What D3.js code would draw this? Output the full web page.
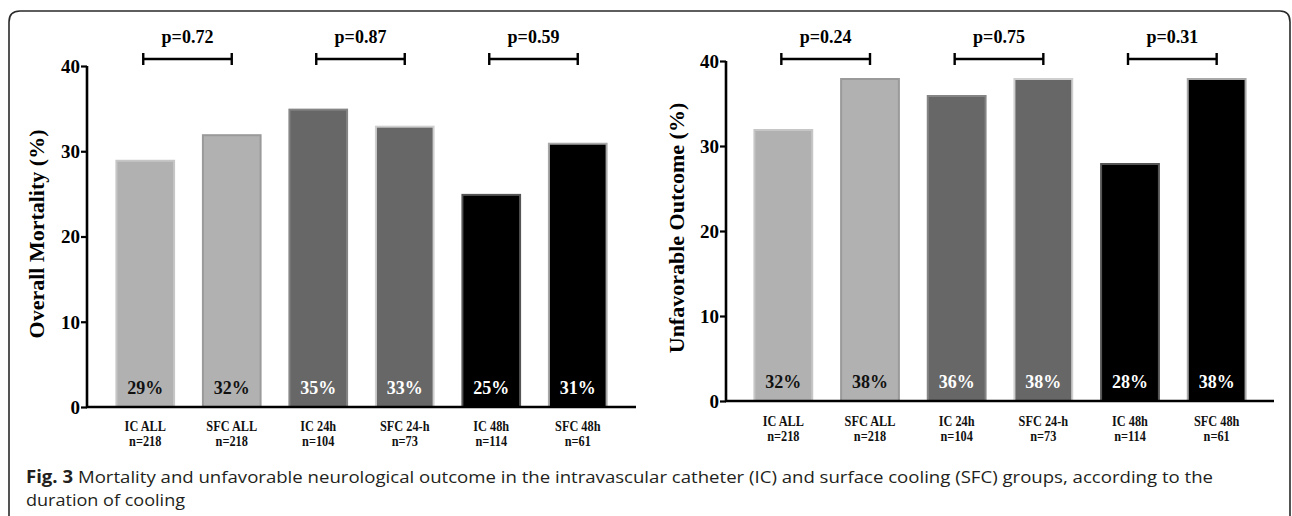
<!DOCTYPE html>
<html><head><meta charset="utf-8">
<script src="https://cdn.jsdelivr.net/npm/d3@7"></script>
<style>body{margin:0;background:#fff}svg{display:block}</style>
</head><body>
<svg id="c" width="1292" height="516"></svg>
<script>
const categories = ["IC ALL","SFC ALL","IC 24h","SFC 24-h","IC 48h","SFC 48h"];
const groupSizes = ["n=218","n=218","n=104","n=73","n=114","n=61"];
const mortality = [29,32,35,33,25,31];
const unfavorable = [32,38,36,38,28,38];
const yTicks = [0,10,20,30,40];
const pMortality = ["p=0.72","p=0.87","p=0.59"];
const pUnfavorable = ["p=0.24","p=0.75","p=0.31"];
const barFill = ["#b1b1b1","#b1b1b1","#676767","#676767","#000000","#000000"];
const barStroke = ["#c6c6c6","#9a9a9a","#858585","#cfcfcf","#555555","#a8a8a8"];
const labelFill = ["#111","#111","#fff","#fff","#fff","#fff"];

const svg = d3.select("#c");
const serif = "'Liberation Serif','Times New Roman',serif";

// frame
svg.append("path")
  .attr("d","M9,530 L9,22 Q9,11 20,11 L1280,11 Q1290,11 1290,22 L1290,530")
  .attr("fill","none").attr("stroke","#2a2a2a").attr("stroke-width",1.6);

function panel(opt){
  const g = svg.append("g");
  const y = d3.scaleLinear().domain([0,40]).range([opt.y0,opt.y40]);
  const x = d3.scaleBand().domain(categories).range(opt.xr).paddingInner(0.31).paddingOuter(0.155);
  // bars
  g.selectAll("rect.bar").data(opt.values).join("rect")
    .attr("x",(d,i)=>x(categories[i])+1)
    .attr("width",x.bandwidth()-2)
    .attr("y",d=>y(d)+1)
    .attr("height",d=>y(0)-y(d)-1)
    .attr("fill",(d,i)=>barFill[i])
    .attr("stroke",(d,i)=>barStroke[i])
    .attr("stroke-width",2);
  // percent labels
  g.selectAll("text.pct").data(opt.values).join("text")
    .attr("x",(d,i)=>x(categories[i])+x.bandwidth()/2)
    .attr("y",y(0)-13)
    .attr("text-anchor","middle")
    .attr("font-family",serif).attr("font-weight","bold").attr("font-size",18)
    .attr("fill",(d,i)=>labelFill[i])
    .text(d=>d+"%");
  // y axis
  const ya = g.append("g").attr("transform",`translate(${opt.ax},0)`)
    .call(d3.axisLeft(y).tickValues(yTicks).tickSize(6).tickPadding(1).tickFormat(d3.format("d")));
  ya.select(".domain").attr("stroke","#000").attr("stroke-width",2.6).attr("d",`M0,${y(0)+1}V${y(40)}`);
  ya.selectAll(".tick line").attr("stroke","#000").attr("stroke-width",2.2);
  ya.selectAll(".tick text").attr("font-family",serif).attr("font-weight","bold").attr("font-size",19).attr("fill","#000").attr("dy","0.34em");
  // x axis line
  g.append("line").attr("x1",opt.ax-1).attr("x2",opt.axEnd).attr("y1",y(0)).attr("y2",y(0))
    .attr("stroke","#000").attr("stroke-width",2.6);
  // x labels (two lines each)
  const xg = g.selectAll("g.xl").data(categories).join("g")
    .attr("transform",(d)=>`translate(${x(d)+x.bandwidth()/2},${y(0)+opt.lab1}) scale(0.82,1)`);
  xg.append("text").attr("text-anchor","middle")
    .attr("font-family",serif).attr("font-weight","bold").attr("font-size",15).attr("fill","#111")
    .text(d=>d);
  xg.append("text").attr("text-anchor","middle").attr("y",15)
    .attr("font-family",serif).attr("font-weight","bold").attr("font-size",15).attr("fill","#111")
    .text((d,i)=>groupSizes[i]);
  // y title
  g.append("text")
    .attr("transform",`translate(${opt.titleX},${opt.titleY}) rotate(-90)`)
    .attr("text-anchor","middle")
    .attr("font-family",serif).attr("font-weight","bold").attr("font-size",22).attr("fill","#000")
    .text(opt.title);
  // p brackets
  opt.pvals.forEach((p,k)=>{
    const a = x(categories[2*k])+x.bandwidth()/2 - 2;
    const b = x(categories[2*k+1])+x.bandwidth()/2;
    const by = opt.bracketY;
    g.append("path").attr("d",`M${a},${by}H${b}M${a},${by-6}V${by+6}M${b},${by-6}V${by+6}`)
      .attr("stroke","#000").attr("stroke-width",2.4).attr("fill","none");
    g.append("text").attr("x",(a+b)/2).attr("y",by-16).attr("text-anchor","middle")
      .attr("font-family",serif).attr("font-weight","bold").attr("font-size",18).attr("fill","#000")
      .text(p);
  });
}

panel({values:mortality, pvals:pMortality, y0:407, y40:66, xr:[102,621], ax:87, axEnd:636,
  lab1:24, title:"Overall Mortality (%)", titleX:44, titleY:234, bracketY:59});
panel({values:unfavorable, pvals:pUnfavorable, y0:401, y40:61, xr:[740,1260], ax:726, axEnd:1274,
  lab1:25, title:"Unfavorable Outcome (%)", titleX:684, titleY:228, bracketY:59});

// caption
const sans = "'Open Sans','Noto Sans',sans-serif";
const cap1 = svg.append("text").attr("x",26).attr("y",483)
  .attr("font-family",sans).attr("font-size",17).attr("fill","#231f20")
  .attr("textLength",1187).attr("lengthAdjust","spacingAndGlyphs");
cap1.append("tspan").attr("font-weight","bold").text("Fig. 3");
cap1.append("tspan").text(" Mortality and unfavorable neurological outcome in the intravascular catheter (IC) and surface cooling (SFC) groups, according to the");
svg.append("text").attr("x",26).attr("y",506)
  .attr("font-family",sans).attr("font-size",17).attr("fill","#231f20")
  .attr("textLength",159).attr("lengthAdjust","spacingAndGlyphs")
  .text("duration of cooling");
</script>
</body></html>
